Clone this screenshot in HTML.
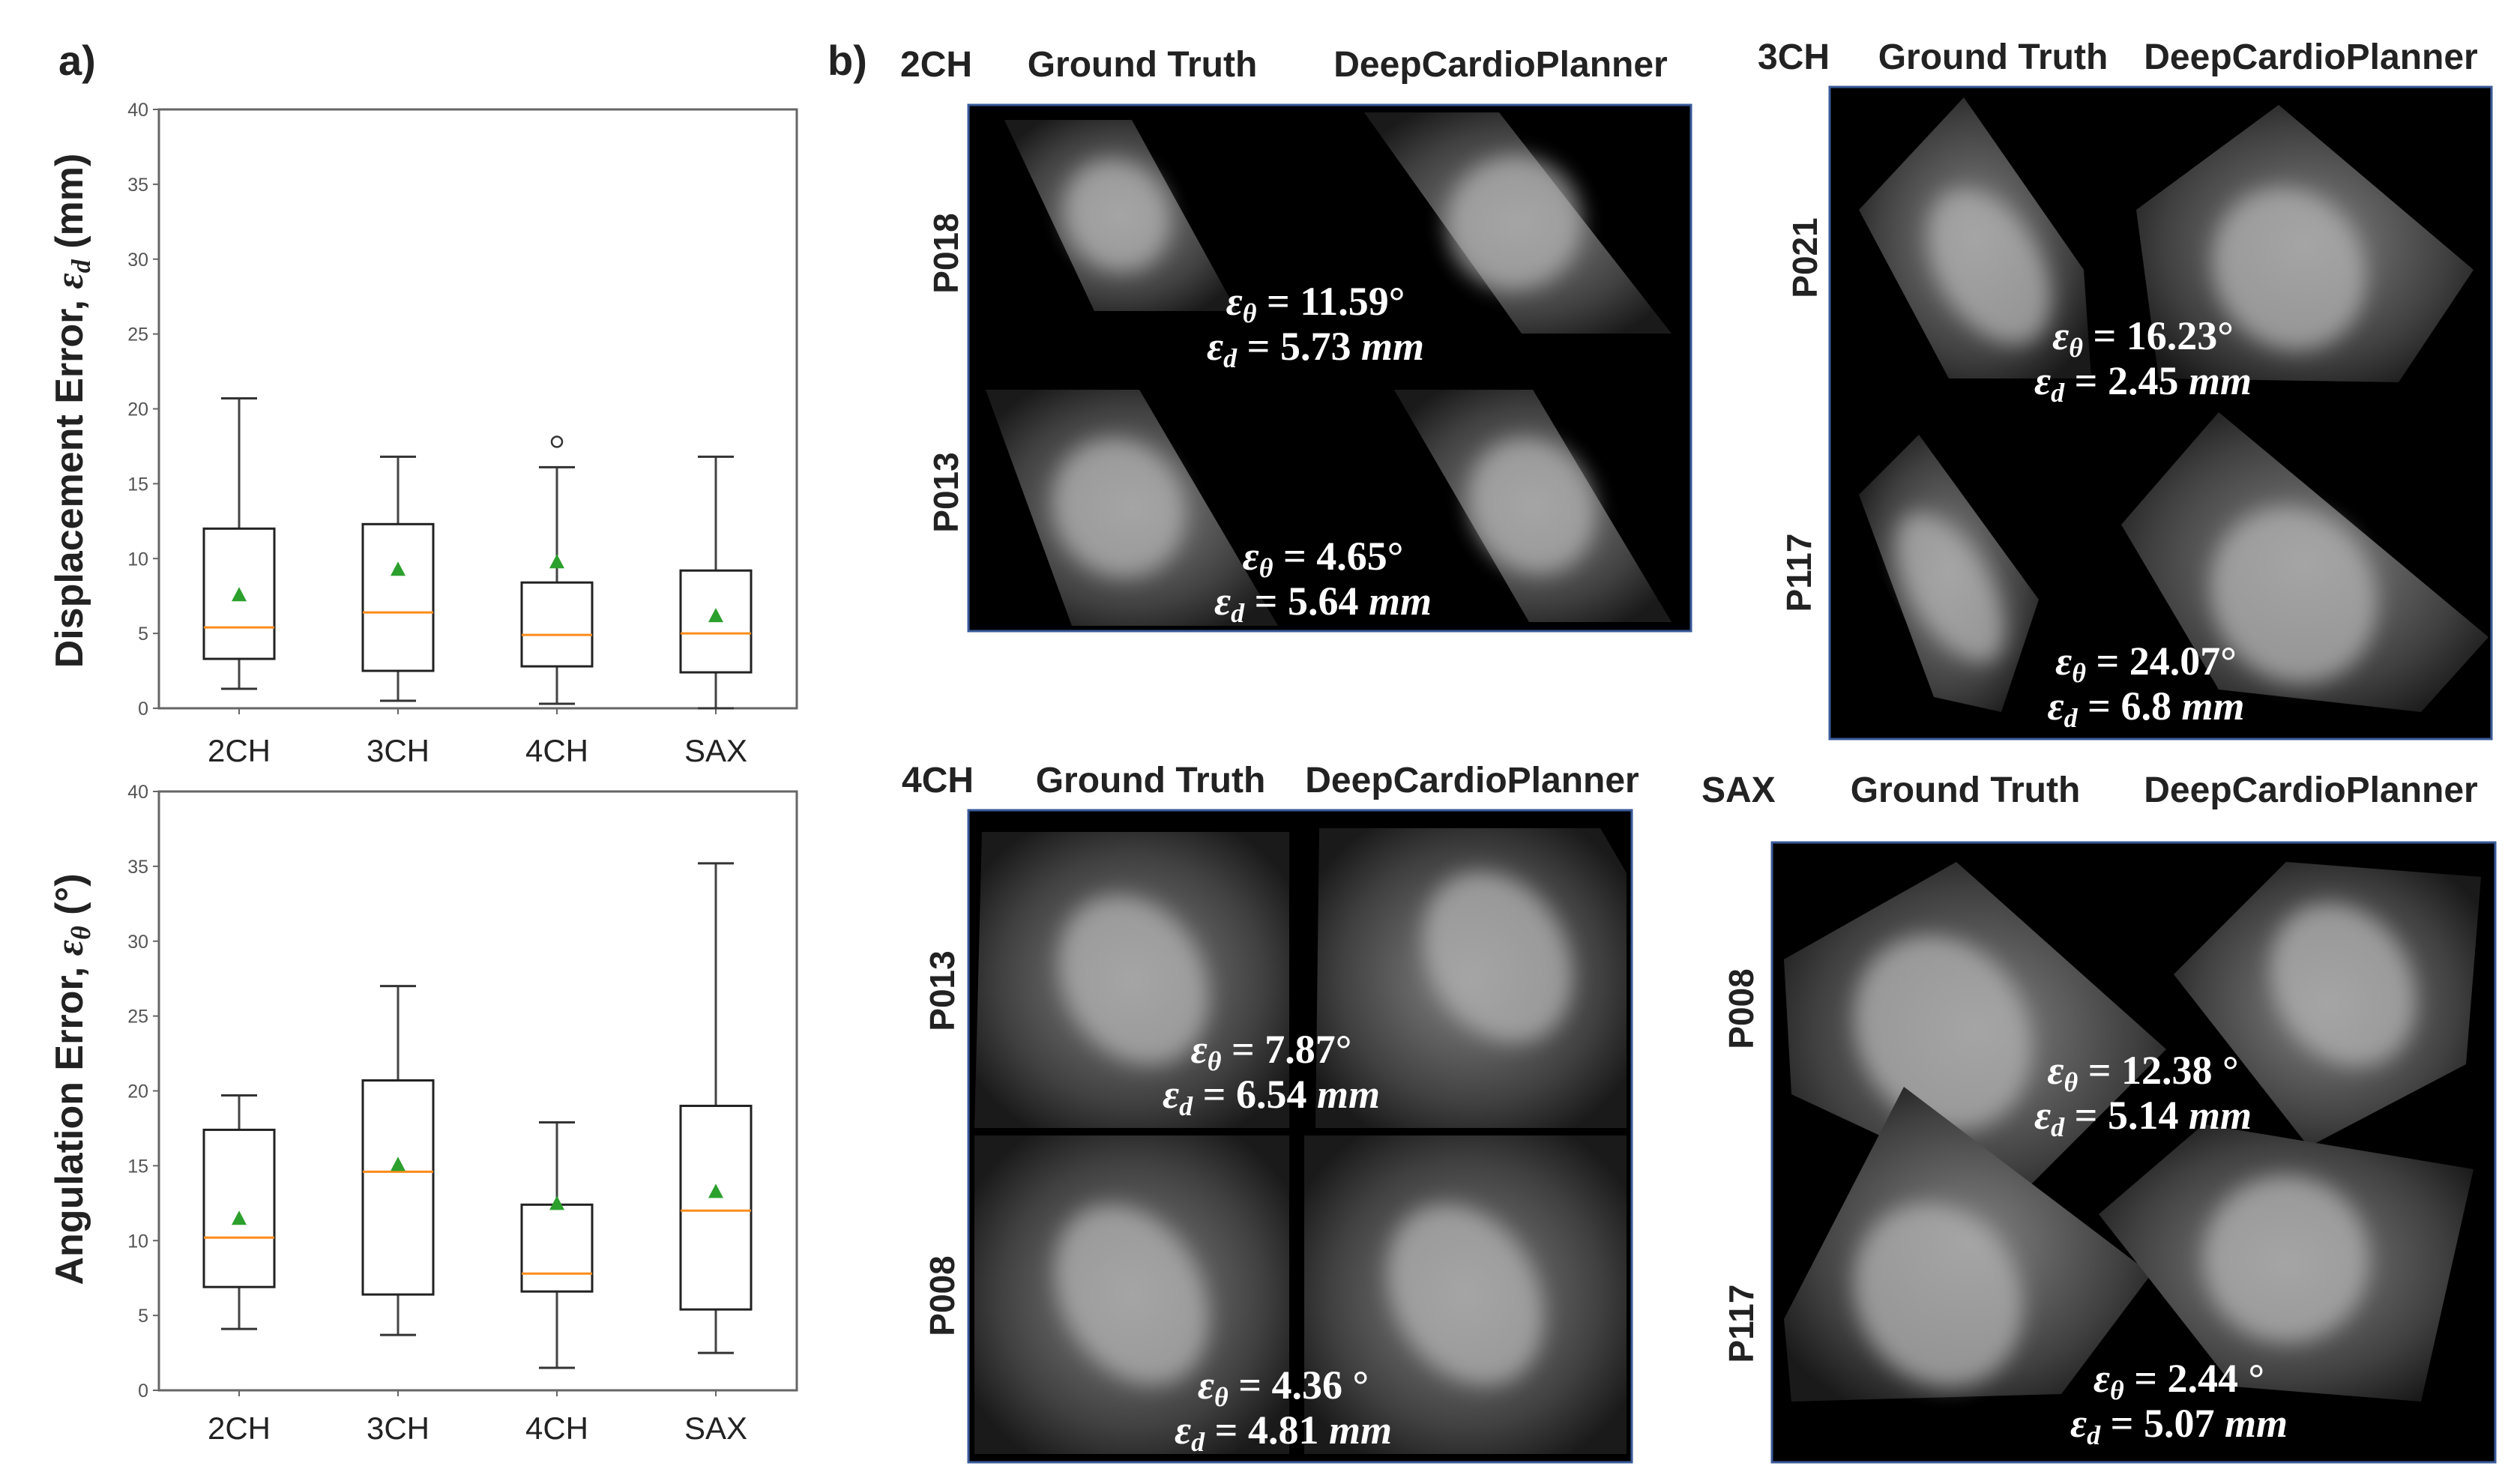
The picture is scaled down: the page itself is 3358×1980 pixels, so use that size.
<!DOCTYPE html>
<html><head><meta charset="utf-8">
<style>
html,body{margin:0;padding:0;background:#fff;}
svg{display:block;}
.t{font-family:"Liberation Sans",sans-serif;}
.hd{font-family:"Liberation Sans",sans-serif;font-size:48px;font-weight:bold;fill:#222;}
.err{font-family:"Liberation Serif",serif;font-size:54px;fill:#fff;font-weight:bold;}
.pl{font-family:"Liberation Sans",sans-serif;font-size:46px;font-weight:bold;fill:#222;}
</style></head>
<body>
<svg id="root" width="3358" height="1980" viewBox="0 0 3358 1980" xmlns="http://www.w3.org/2000/svg">
<defs>
<filter id="bl" x="-20%" y="-20%" width="140%" height="140%"><feGaussianBlur stdDeviation="14"/></filter>
<radialGradient id="g2" cx="50%" cy="50%" r="60%"><stop offset="0" stop-color="#858585"/><stop offset="0.7" stop-color="#404040"/><stop offset="1" stop-color="#1a1a1a"/></radialGradient>
</defs>
<g id="chartTop"></g>
<g id="chartBot"></g>
<text class="t" x="78" y="100" font-size="56" font-weight="bold" fill="#222">a)</text>
<text class="t" x="1104" y="100" font-size="56" font-weight="bold" fill="#222">b)</text>
<g id="mri"></g>
</svg>
<script>
// Chart data
const categories = ["2CH","3CH","4CH","SAX"];
const yTicks = [0,5,10,15,20,25,30,35,40];
const dispWhiskLo = [1.3,0.5,0.3,0.0];
const dispQ1 = [3.3,2.5,2.8,2.4];
const dispMed = [5.4,6.4,4.9,5.0];
const dispQ3 = [12.0,12.3,8.4,9.2];
const dispWhiskHi = [20.7,16.8,16.1,16.8];
const dispMean = [7.6,9.3,9.8,6.2];
const dispOutliers = [[],[],[17.8],[]];
const angWhiskLo = [4.1,3.7,1.5,2.5];
const angQ1 = [6.9,6.4,6.6,5.4];
const angMed = [10.2,14.6,7.8,12.0];
const angQ3 = [17.4,20.7,12.4,19.0];
const angWhiskHi = [19.7,27.0,17.9,35.2];
const angMean = [11.5,15.1,12.5,13.3];
const angOutliers = [[],[],[],[]];

const NS="http://www.w3.org/2000/svg";
function mk(tag,attrs,parent){const e=document.createElementNS(NS,tag);for(const k in attrs)e.setAttribute(k,attrs[k]);parent.appendChild(e);return e;}

function drawChart(g,top,bottom,lo,q1,med,q3,hi,mean,outl,title,sub,after,titleY,prefix){
  const L=212,R=1063;
  const xPos=i=>319+i*((955-319)/3);
  const y=v=>bottom-(v/40)*(bottom-top);
  const frame=mk('rect',{x:L,y:top,width:R-L,height:bottom-top,fill:'none',stroke:'#666','stroke-width':3},g);
  
  
  yTicks.forEach(v=>{
    const tl=mk('line',{x1:L-8,x2:L,y1:y(v),y2:y(v),stroke:'#666','stroke-width':2},g);
    
    
    const tx=mk('text',{x:L-14,y:y(v)+9,'text-anchor':'end','font-size':25,fill:'#555',class:'t'},g);
    tx.textContent=v;
    
    
  });
  categories.forEach((c,i)=>{
    const cx=xPos(i),hw=47,cw=24;
    const bg=mk('g',{},g);
    
    
    mk('line',{x1:cx,x2:cx,y1:bottom,y2:bottom+8,stroke:'#666','stroke-width':2},bg);
    mk('line',{x1:cx,x2:cx,y1:y(hi[i]),y2:y(q3[i]),stroke:'#444','stroke-width':3},bg);
    mk('line',{x1:cx,x2:cx,y1:y(q1[i]),y2:y(lo[i]),stroke:'#444','stroke-width':3},bg);
    mk('line',{x1:cx-cw,x2:cx+cw,y1:y(hi[i]),y2:y(hi[i]),stroke:'#333','stroke-width':3},bg);
    mk('line',{x1:cx-cw,x2:cx+cw,y1:y(lo[i]),y2:y(lo[i]),stroke:'#333','stroke-width':3},bg);
    mk('rect',{x:cx-hw,y:y(q3[i]),width:2*hw,height:y(q1[i])-y(q3[i]),fill:'none',stroke:'#222','stroke-width':3},bg);
    mk('line',{x1:cx-hw,x2:cx+hw,y1:y(med[i]),y2:y(med[i]),stroke:'#ff8c1a','stroke-width':3},bg);
    const my=y(mean[i]);
    mk('polygon',{points:`${cx-10},${my+9} ${cx+10},${my+9} ${cx},${my-10}`,fill:'#2ca02c'},bg);
    outl[i].forEach(o=>mk('circle',{cx:cx,cy:y(o),r:7,fill:'none',stroke:'#333','stroke-width':2.5},bg));
    const xl=mk('text',{x:cx,y:after,'text-anchor':'middle','font-size':42,fill:'#222',class:'t'},g);
    xl.textContent=c;
    
    
  });
  const tt=mk('text',{x:0,y:0,'text-anchor':'middle','font-size':52,'font-weight':'bold',fill:'#222',class:'t',transform:`translate(110,${titleY}) rotate(-90)`},g);
  tt.innerHTML=title+'<tspan font-family="Liberation Serif" font-style="italic">ε</tspan><tspan font-family="Liberation Serif" font-style="italic" font-size="36" dy="10">'+sub+'</tspan><tspan dy="-10"> '+(prefix==='disp'?'(mm)':'(°)')+'</tspan>';
  
  
}
drawChart(document.getElementById('chartTop'),146,945,dispWhiskLo,dispQ1,dispMed,dispQ3,dispWhiskHi,dispMean,dispOutliers,'Displacement Error, ','d',1016,548,'disp');
drawChart(document.getElementById('chartBot'),1056,1855,angWhiskLo,angQ1,angMed,angQ3,angWhiskHi,angMean,angOutliers,'Angulation Error, ','θ',1920,1440,'ang');

// MRI panels (decorative)
const mri=document.getElementById('mri');
const panels=[
 {n:'2ch',box:[1292,140,964,702],head:[[1201,'2CH'],[1524,'Ground Truth'],[2002,'DeepCardioPlanner']],hy:102,
  pats:[['P018',1262,338],['P013',1262,657]],
  imgs:[[[1340,160],[1510,160],[1650,415],[1460,415]],[[1820,150],[2000,150],[2230,445],[2030,445]],[[1315,520],[1520,520],[1705,835],[1430,835]],[[1860,520],[2045,520],[2230,830],[2040,830]]],
  errs:[[1755,420,'11.59°','5.73 mm'],[1765,760,'4.65°','5.64 mm']]},
 {n:'3ch',box:[2441,116,883,870],head:[[2345,'3CH'],[2659,'Ground Truth'],[3083,'DeepCardioPlanner']],hy:92,
  pats:[['P021',2408,344],['P117',2400,764]],
  imgs:[[[2480,280],[2620,130],[2780,360],[2790,505],[2600,505]],[[2850,280],[3040,140],[3300,360],[3200,510],[2880,505]],[[2480,660],[2560,580],[2720,800],[2670,950],[2580,930]],[[2830,700],[2960,550],[3320,850],[3230,950],[2960,920]]],
  errs:[[2859,466,'16.23°','2.45 mm'],[2863,900,'24.07°','6.8 mm']]},
 {n:'4ch',box:[1292,1081,885,870],head:[[1203,'4CH'],[1535,'Ground Truth'],[1964,'DeepCardioPlanner']],hy:1057,
  pats:[['P013',1257,1322],['P008',1257,1729]],
  imgs:[[[1310,1110],[1720,1110],[1720,1505],[1300,1505]],[[1760,1105],[2135,1105],[2170,1165],[2170,1505],[1755,1505]],[[1300,1515],[1720,1515],[1720,1940],[1300,1940]],[[1740,1515],[2170,1515],[2170,1940],[1740,1940]]],
  errs:[[1696,1418,'7.87°','6.54 mm'],[1712,1866,'4.36 °','4.81 mm']]},
 {n:'sax',box:[2364,1124,965,827],head:[[2270,'SAX'],[2622,'Ground Truth'],[3083,'DeepCardioPlanner']],hy:1070,
  pats:[['P008',2323,1346],['P117',2323,1766]],
  imgs:[[[2380,1280],[2610,1150],[2890,1400],[2690,1600],[2390,1460]],[[2900,1300],[3050,1150],[3310,1170],[3290,1420],[3080,1530]],[[2380,1760],[2540,1450],[2870,1700],[2750,1860],[2390,1870]],[[2800,1620],[2940,1500],[3300,1560],[3230,1870],[2980,1850]]],
  errs:[[2859,1446,'12.38 °','5.14 mm'],[2907,1857,'2.44 °','5.07 mm']]}
];
panels.forEach(p=>{
  const g=mk('g',{},mri);
  
  
  p.head.forEach(([x,t],k)=>{
    const e=mk('text',{x:x,y:p.hy,'text-anchor':k===0?'start':'middle',class:'hd'},g);
    e.textContent=t;
    
    
  });
  const b=mk('rect',{x:p.box[0],y:p.box[1],width:p.box[2],height:p.box[3],fill:'#000',stroke:'#3a5a9a','stroke-width':3},g);
  
  
  p.imgs.forEach(pts=>{
    const pl=mk('polygon',{points:pts.map(q=>q.join(',')).join(' '),fill:'url(#g2)'},g);
    
    
    const cx=pts.reduce((a,q)=>a+q[0],0)/pts.length, cy=pts.reduce((a,q)=>a+q[1],0)/pts.length;
    const w=Math.max(...pts.map(q=>q[0]))-Math.min(...pts.map(q=>q[0]));
    const h=Math.max(...pts.map(q=>q[1]))-Math.min(...pts.map(q=>q[1]));
    mk('ellipse',{cx:cx,cy:cy,rx:w*0.22,ry:h*0.3,fill:'#b0b0b0',opacity:0.75,filter:'url(#bl)',transform:`rotate(-30 ${cx} ${cy})`},g);
  });
  p.pats.forEach(([t,x,y])=>{
    const e=mk('text',{x:0,y:0,'text-anchor':'middle',class:'pl',transform:`translate(${x+16},${y}) rotate(-90)`},g);
    e.textContent=t;
    
    
  });
  p.errs.forEach(([x,y,a,d])=>{
    const e1=mk('text',{x:x,y:y,'text-anchor':'middle',class:'err'},g);
    e1.innerHTML='<tspan font-style="italic">ε</tspan><tspan font-style="italic" font-size="36" dy="10">θ</tspan><tspan dy="-10"> = '+a+'</tspan>';
    
    
    const e2=mk('text',{x:x,y:y+60,'text-anchor':'middle',class:'err'},g);
    e2.innerHTML='<tspan font-style="italic">ε</tspan><tspan font-style="italic" font-size="36" dy="10">d</tspan><tspan dy="-10"> = '+d.replace(' mm','')+' </tspan><tspan font-style="italic">mm</tspan>';
    
    
  });
});
</script>
</body></html>
